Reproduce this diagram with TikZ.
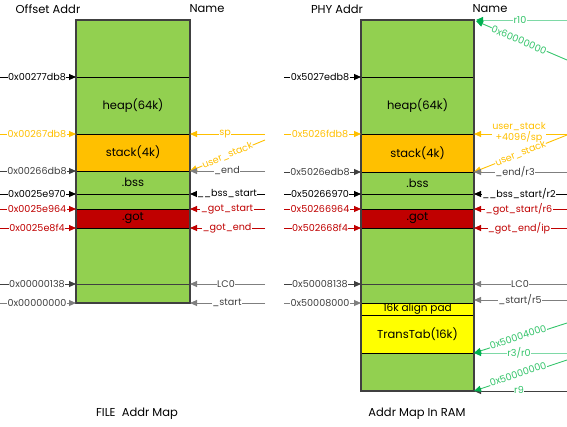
\documentclass[tikz,border=0pt]{standalone}
\usepackage{fontspec}
\setmainfont{Poppins}
\usetikzlibrary{arrows.meta,calc}
\definecolor{cgreen}{HTML}{92D050}
\definecolor{corange}{HTML}{FFC000}
\definecolor{cred}{HTML}{C00000}
\definecolor{cyellow}{HTML}{FFFF00}
\definecolor{boxgray}{HTML}{404040}
\definecolor{lgray}{HTML}{7F7F7F}
\definecolor{ltgreen}{HTML}{7ED9A6}
\definecolor{mgreen}{HTML}{33C46A}
\definecolor{dgreen}{HTML}{00B050}
\newcommand{\labfont}{\fontsize{9.6}{10}\selectfont}
\newcommand{\boxfont}{\fontsize{11.5}{13}\selectfont}
\newcommand{\arrowlab}[8]{%
  \coordinate (#1a) at (#2,#4);
  \coordinate (#1b) at (#3,#4);
  \draw[arr,#5] (#1a) -- (#1b);
  \node[lab,text=#7] (#1t) at (#8,#4) {#6};}
\newcommand{\diaglab}[8]{%
  \coordinate (#1a) at (#2,#3);
  \coordinate (#1b) at (#4,#5);
  \draw[arr,#6] (#1a) -- (#1b);
  \node[lab,text=#6,rotate=#8] (#1t) at ($(#1a)!0.5!(#1b)$) {#7};}
\begin{document}
\begin{tikzpicture}[x=1pt,y=-1pt,
  lab/.style={font=\labfont, fill=white, inner sep=0.4pt},
  arr/.style={-{Triangle[length=7pt,width=6pt]}, line width=0.9pt},
  garr/.style={-{Triangle[length=7pt,width=6pt,color=dgreen]}, line width=0.9pt},
  reg/.style={draw=black, line width=0.9pt, anchor=north west, inner sep=0pt, outer sep=0pt, font=\boxfont},
  hdr/.style={font=\boxfont, inner sep=0pt}]
\useasboundingbox (0,0) rectangle (567,426);
% headers
\node[hdr] (h1) at (48,9) {Offset Addr};
\node[hdr] (h2) at (207,9) {Name};
\node[hdr] (h3) at (337,9) {PHY Addr};
\node[hdr] (h4) at (490,9) {Name};
\node[hdr] (f1) at (137,414) {FILE\ \ Addr Map};
\node[hdr] (f2) at (417,414) {Addr Map In RAM};
% left box
\node[reg, fill=cgreen, minimum width=114pt, minimum height=283pt, draw=boxgray] (Lbox) at (76,20) {};
\node[reg, fill=cgreen, minimum width=114pt, minimum height=57pt] (Lheap) at (76,77) {heap(64k)};
\node[reg, fill=corange, minimum width=114pt, minimum height=37pt] (Lstack) at (76,134) {stack(4k)};
\node[reg, fill=cgreen, minimum width=114pt, minimum height=23pt] (Lbss) at (76,171) {.bss};
\node[reg, fill=cred, minimum width=114pt, minimum height=19pt] (Lgot) at (76,209) {.got};
\node[reg, fill=cgreen, minimum width=114pt, minimum height=19pt, draw=boxgray] (Llc) at (76,284) {};
\draw[boxgray, line width=1.2pt] (Lbox.north west) rectangle (Lbox.south east);
% right box
\node[reg, fill=cgreen, minimum width=113pt, minimum height=371pt, draw=boxgray] (Rbox) at (361,20) {};
\node[reg, fill=cgreen, minimum width=113pt, minimum height=57pt] (Rheap) at (361,77) {heap(64k)};
\node[reg, fill=corange, minimum width=113pt, minimum height=38pt] (Rstack) at (361,134) {stack(4k)};
\node[reg, fill=cgreen, minimum width=113pt, minimum height=22pt] (Rbss) at (361,172) {.bss};
\node[reg, fill=cred, minimum width=113pt, minimum height=19pt] (Rgot) at (361,209) {.got};
\node[reg, fill=cgreen, minimum width=113pt, minimum height=19pt, draw=boxgray] (Rlc) at (361,284) {};
\node[reg, fill=cyellow, minimum width=113pt, minimum height=12pt, font=\fontsize{10.5}{11}\selectfont] (Rpad) at (361,303) {16k align pad};
\node[reg, fill=cyellow, minimum width=113pt, minimum height=38pt] (Rtt) at (361,315) {TransTab(16k)};
\draw[boxgray, line width=1.2pt] (Rbox.north west) rectangle (Rbox.south east);
% left box, left labels
\arrowlab{a1}{0}{76}{77}{black}{0x00277db8}{black}{37}
\arrowlab{a2}{0}{76}{134}{corange}{0x00267db8}{corange}{37}
\arrowlab{a3}{0}{76}{171}{boxgray}{0x00266db8}{boxgray}{37}
\arrowlab{a4}{0}{76}{194}{black}{0x0025e970}{black}{37}
\arrowlab{a5}{0}{76}{209}{cred}{0x0025e964}{cred}{37}
\arrowlab{a6}{0}{76}{228}{cred}{0x0025e8f4}{cred}{37}
\arrowlab{a7}{0}{76}{284}{boxgray}{0x00000138}{boxgray}{37}
\arrowlab{a8}{0}{76}{303}{lgray}{0x00000000}{boxgray}{37}
% left box, right labels
\arrowlab{b1}{265}{190}{134}{corange}{sp}{corange}{225}
\diaglab{b2}{265}{140}{190}{171}{corange}{user\_stack}{22.5}
\arrowlab{b3}{265}{190}{171}{lgray}{\_end}{boxgray}{227}
\arrowlab{b4}{265}{190}{194}{black}{\_\_bss\_start}{black}{227}
\arrowlab{b5}{265}{190}{209}{cred}{\_got\_start}{cred}{227}
\arrowlab{b6}{265}{190}{228}{cred}{\_got\_end}{cred}{227}
\arrowlab{b7}{265}{190}{284}{lgray}{LC0}{boxgray}{226}
\arrowlab{b8}{265}{190}{303}{lgray}{\_start}{boxgray}{227}
% right box, left labels
\arrowlab{c1}{284}{361}{77}{black}{0x5027edb8}{black}{320}
\arrowlab{c2}{284}{361}{134}{corange}{0x5026fdb8}{corange}{320}
\arrowlab{c3}{284}{361}{172}{boxgray}{0x5026edb8}{boxgray}{320}
\arrowlab{c4}{284}{361}{194}{black}{0x50266970}{black}{320}
\arrowlab{c5}{284}{361}{209}{cred}{0x50266964}{cred}{320}
\arrowlab{c6}{284}{361}{228}{cred}{0x502668f4}{cred}{320}
\arrowlab{c7}{284}{361}{284}{boxgray}{0x50008138}{boxgray}{320}
\arrowlab{c8}{284}{361}{303}{lgray}{0x50008000}{boxgray}{320}
% right box, right labels
\coordinate (d1a) at (567,20);
\coordinate (d1b) at (476,20);
\draw[garr,ltgreen] (d1a) -- (d1b);
\node[lab,text=mgreen] (d1t) at (520,20) {r10};
\coordinate (d2a) at (567,60);
\coordinate (d2b) at (476,21);
\draw[garr,mgreen] (d2a) -- (d2b);
\node[lab,text=mgreen,rotate=-23] (d2t) at (519,40) {0x60000000};
\coordinate (d3a) at (567,134);
\coordinate (d3b) at (474,134);
\draw[arr,corange] (d3a) -- (d3b);
\node[lab,text=corange,align=center] (d3t) at (519,133) {user\_stack\\+4096/sp};
\diaglab{d4}{567}{135}{474}{172}{corange}{user\_stack}{21.9}
\arrowlab{d5}{567}{474}{172}{lgray}{\_end/r3}{boxgray}{515}
\arrowlab{d6}{567}{474}{194}{black}{\_\_bss\_start/r2}{black}{519}
\arrowlab{d7}{567}{474}{209}{cred}{\_got\_start/r6}{cred}{519}
\arrowlab{d8}{567}{474}{228}{cred}{\_got\_end/ip}{cred}{519}
\arrowlab{d9}{567}{474}{284}{lgray}{LC0}{boxgray}{520}
\arrowlab{d10}{567}{474}{300}{lgray}{\_start/r5}{boxgray}{520}
\coordinate (d11a) at (567,353);
\coordinate (d11b) at (474,353);
\draw[garr,ltgreen] (d11a) -- (d11b);
\node[lab,text=mgreen] (d11t) at (519,353) {r3/r0};
\coordinate (d12a) at (567,323);
\coordinate (d12b) at (474,353);
\draw[garr,mgreen] (d12a) -- (d12b);
\node[lab,text=mgreen,rotate=18] (d12t) at (518,337) {0x50004000};
\coordinate (d13a) at (567,391);
\coordinate (d13b) at (474,391);
\draw[arr,boxgray] (d13a) -- (d13b);
\node[lab,text=mgreen] (d13t) at (519,390) {r9};
\coordinate (d14a) at (567,360);
\coordinate (d14b) at (474,391);
\draw[garr,mgreen] (d14a) -- (d14b);
\node[lab,text=mgreen,rotate=18] (d14t) at (518,374) {0x50000000};
\end{tikzpicture}
\end{document}
